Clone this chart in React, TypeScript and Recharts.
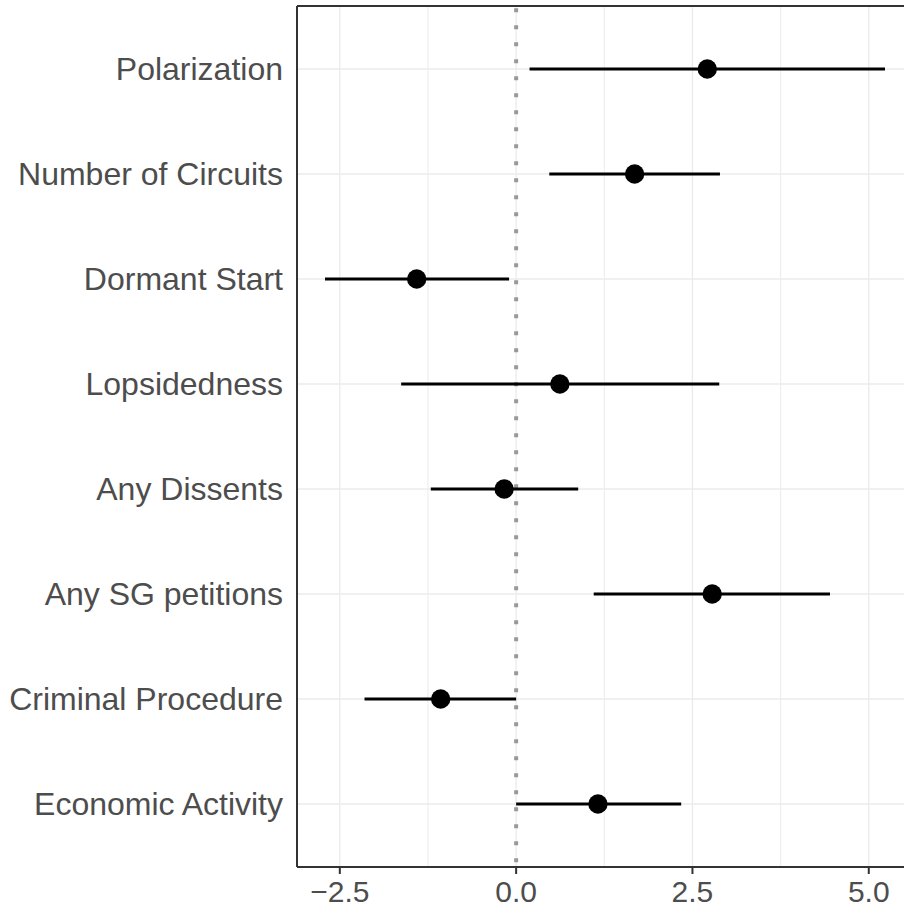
import {
  CartesianGrid,
  ErrorBar,
  ReferenceLine,
  Scatter,
  ScatterChart,
  XAxis,
  YAxis,
} from "recharts";

// Coefficient plot: point estimate + interval for each term, top to bottom.
const terms = [
  "Polarization",
  "Number of Circuits",
  "Dormant Start",
  "Lopsidedness",
  "Any Dissents",
  "Any SG petitions",
  "Criminal Procedure",
  "Economic Activity",
];
const estimates = [2.71, 1.68, -1.41, 0.62, -0.17, 2.78, -1.07, 1.16];
const lower = [0.19, 0.47, -2.71, -1.63, -1.21, 1.1, -2.15, 0.0];
const upper = [5.23, 2.89, -0.1, 2.88, 0.88, 4.45, 0.0, 2.34];

const xTicks = [-2.5, 0, 2.5, 5];
const xMinorGrid = [-1.25, 1.25, 3.75];
const xDomain: [number, number] = [-3.107, 5.627];
const yDomain: [number, number] = [0.4, 8.6];

const rows = terms.map((term, i) => ({
  term,
  pos: i + 1,
  est: estimates[i],
  err: [estimates[i] - lower[i], upper[i] - estimates[i]],
}));

const font = '"Liberation Sans", Arial, Helvetica, sans-serif';
const textColor = "#4d4d4d";
const axisColor = "#333333";
const gridColor = "#ebebeb";

function formatTick(v: number): string {
  const s = Math.abs(v).toFixed(1);
  return v < 0 ? `\u2212${s}` : s;
}

function Dot(props: { cx?: number; cy?: number }) {
  if (props.cx == null || props.cy == null) return null;
  return <circle cx={props.cx} cy={props.cy} r={9.7} fill="#000000" />;
}

export default function App() {
  return (
    <div
      style={{
        position: "absolute",
        left: 0,
        top: 0,
        width: 904,
        height: 911,
        overflow: "hidden",
        background: "#ffffff",
      }}
    >
      <ScatterChart
        width={920}
        height={911}
        margin={{ top: 6, right: 7, bottom: 0, left: 0 }}
      >
        <CartesianGrid
          vertical={false}
          horizontal
          stroke={gridColor}
          strokeWidth={1.3}
        />
        {xMinorGrid.map((v) => (
          <ReferenceLine key={`mn${v}`} x={v} stroke={gridColor} strokeWidth={1} />
        ))}
        {xTicks.map((v) => (
          <ReferenceLine key={`mj${v}`} x={v} stroke={gridColor} strokeWidth={1.3} />
        ))}
        <ReferenceLine
          x={0}
          stroke="#999999"
          strokeWidth={4}
          strokeDasharray="4 13"
          strokeDashoffset={12.3}
        />
        <ReferenceLine y={yDomain[0]} stroke={axisColor} strokeWidth={2} />
        <ReferenceLine x={xDomain[1]} stroke={axisColor} strokeWidth={2} />
        <XAxis
          type="number"
          dataKey="est"
          domain={xDomain}
          allowDataOverflow
          ticks={xTicks}
          tickFormatter={formatTick}
          height={44}
          tickSize={7}
          tickMargin={7}
          axisLine={{ stroke: axisColor, strokeWidth: 2 }}
          tickLine={{ stroke: axisColor, strokeWidth: 2 }}
          tick={{ fill: textColor, fontSize: 30, fontFamily: font }}
        />
        <YAxis
          type="number"
          dataKey="pos"
          domain={yDomain}
          allowDataOverflow
          reversed
          ticks={[1, 2, 3, 4, 5, 6, 7, 8]}
          tickFormatter={(v: number) => terms[v - 1] ?? ""}
          width={297}
          tickSize={0}
          tickMargin={14}
          tickLine={false}
          axisLine={{ stroke: axisColor, strokeWidth: 2 }}
          tick={{ fill: textColor, fontSize: 32, fontFamily: font }}
        />
        <Scatter data={rows} shape={<Dot />} isAnimationActive={false}>
          <ErrorBar
            dataKey="err"
            direction="x"
            width={0}
            stroke="#000000"
            strokeWidth={3}
            isAnimationActive={false}
          />
        </Scatter>
      </ScatterChart>
    </div>
  );
}
